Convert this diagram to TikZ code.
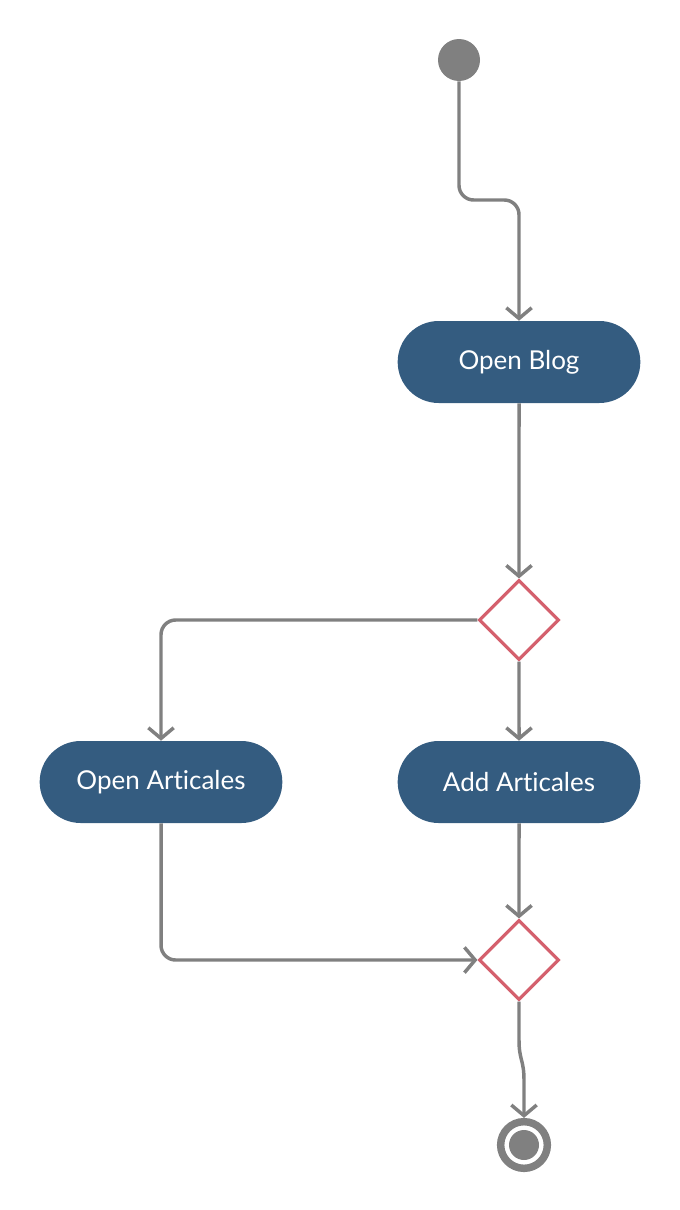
\documentclass[tikz,border=0pt]{standalone}
\usepackage{fontspec}
\setmainfont{Lato}[Ligatures={NoCommon}]
\usetikzlibrary{arrows.meta,shapes.misc,shapes.geometric}

\definecolor{flowgray}{HTML}{808080}
\definecolor{actblue}{HTML}{345C80}
\definecolor{decred}{HTML}{D4606D}

\begin{document}
\begin{tikzpicture}[x=0.75pt,y=-0.75pt,
   activity/.style={rounded rectangle,fill=actblue,text=white,minimum width=182pt,minimum height=61.5pt,inner xsep=0pt,font=\fontsize{19.5}{22}\selectfont},
   decision/.style={diamond,draw=decred,line width=2.4pt,fill=white,minimum size=60pt,inner sep=0pt},
   flow/.style={draw=flowgray,line width=2.6pt,-{Straight Barb[length=8pt,width=19pt]}},
   ends/.style={circle,inner sep=0pt}]
   \useasboundingbox (0,0) rectangle (680,1210);
   \node[ends,fill=flowgray,minimum size=31.5pt] (start) at (459,60) {};
   \node[activity] (blog) at (519,362) {Open Blog};
   \node[decision] (dec1) at (519,620) {};
   \node[activity] (open) at (161,782) {Open Articales};
   \node[activity] (add) at (519,782) {Add Articales};
   \node[decision] (dec2) at (519,960) {};
   \node[ends,draw=flowgray,line width=5.6pt,minimum size=35pt] (stop) at (524,1145) {};
   \node[ends,fill=flowgray,minimum size=22.5pt] (stopdot) at (stop) {};
   \coordinate (bend) at (519,200);
   \coordinate (wig1) at (519,1040);
   \coordinate (wig2) at (524,1080);
   \draw[flow,rounded corners=11pt] (start) |- (bend) -- (blog);
   \draw[flow] (blog) -- (dec1);
   \draw[flow,rounded corners=11pt] (dec1) -| (open);
   \draw[flow] (dec1) -- (add);
   \draw[flow] (add) -- (dec2);
   \draw[flow,rounded corners=11pt] (open) |- (dec2);
   \draw[flow] (dec2) -- (wig1) .. controls +(0,20) and +(0,-20) .. (wig2) -- (stop);
\end{tikzpicture}
\end{document}
